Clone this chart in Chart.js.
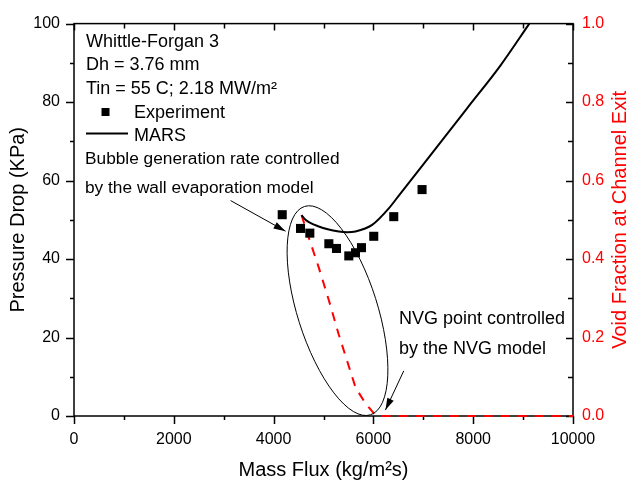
<!DOCTYPE html>
<html><head><meta charset="utf-8">
<script src="https://cdn.jsdelivr.net/npm/chart.js@4.4.1/dist/chart.umd.min.js"></script>
<style>html,body{margin:0;padding:0;background:#fff;}</style>
</head><body>
<canvas id="c" width="628" height="483"></canvas>
<script>
// ---- data ----
const expFlux = [4173, 4540, 4726, 5107, 5260, 5507, 5641, 5761, 6007, 6408, 6975];
const expDP   = [51.3, 47.8, 46.6, 43.9, 42.7, 40.8, 41.6, 42.9, 45.8, 50.8, 57.7];
const marsFlux = [4560, 4640, 4906, 5307, 5474, 5641, 5975, 6308, 6541, 7208, 7877, 8545, 9125];
const marsDP   = [51.2, 50.0, 48.3, 47.0, 46.8, 47.0, 48.7, 52.9, 56.7, 67.5, 78.4, 89.3, 100];
const voidFlux = [4560, 4706, 4906, 5107, 5307, 5474, 5641, 5841, 6007, 6108, 10000];
const voidFrac = [0.512, 0.454, 0.378, 0.295, 0.207, 0.140, 0.073, 0.032, 0.007, 0.0, 0.0];
const xTickMarks  = [0,1000,2000,3000,4000,5000,6000,7000,8000,9000,10000];
const yTickMarks  = [0,10,20,30,40,50,60,70,80,90,100];
const y2TickMarks = [0,0.1,0.2,0.3,0.4,0.5,0.6,0.7,0.8,0.9,1.0];
const xLabelVals  = [0,2000,4000,6000,8000,10000];
const yLabelVals  = [0,20,40,60,80,100];
const y2LabelVals = [0,0.2,0.4,0.6,0.8,1.0];
const infoLines = ['Whittle-Forgan 3', 'Dh = 3.76 mm', 'Tin = 55 C; 2.18 MW/m\u00B2'];
const legendLabels = ['Experiment', 'MARS'];
const note1 = ['Bubble generation rate controlled', 'by the wall evaporation model'];
const note2 = ['NVG point controlled', 'by the NVG model'];
const xTitle = 'Mass Flux (kg/m\u00B2s)';
const yTitle = 'Pressure Drop (KPa)';
const y2Title = 'Void Fraction at Channel Exit';

const FF = "'Liberation Sans', Arial, Helvetica, sans-serif";
const RED = '#ff0000';

function pts(xs, ys){ return xs.map((v,i)=>({x:v, y:ys[i]})); }

function arrow(ctx, x0, y0, x1, y1){
  ctx.beginPath(); ctx.moveTo(x0,y0); ctx.lineTo(x1,y1); ctx.stroke();
  const ang = Math.atan2(y1-y0, x1-x0), L = 12, W = 3.5;
  const bx = x1 - L*Math.cos(ang), by = y1 - L*Math.sin(ang);
  ctx.beginPath();
  ctx.moveTo(x1,y1);
  ctx.lineTo(bx + W*Math.sin(ang), by - W*Math.cos(ang));
  ctx.lineTo(bx - W*Math.sin(ang), by + W*Math.cos(ang));
  ctx.closePath(); ctx.fill();
}

const decor = {
  id: 'decor',
  beforeDatasetsDraw(chart){
    const {ctx, chartArea:a, scales:{x, y, y2}} = chart;
    ctx.save();
    ctx.strokeStyle = '#000'; ctx.lineWidth = 1.5;
    ctx.strokeRect(a.left, a.top, a.right-a.left, a.bottom-a.top);
    ctx.beginPath();
    xTickMarks.forEach(v=>{
      const px = Math.round(x.getPixelForValue(v))+0.5;
      const major = v % 2000 === 0;
      ctx.moveTo(px, a.bottom); ctx.lineTo(px, a.bottom + (major?8:4));
      ctx.moveTo(px, a.top); ctx.lineTo(px, a.top + (major?7:5));
    });
    yTickMarks.forEach(v=>{
      const py = Math.round(y.getPixelForValue(v))+0.5;
      const major = v % 20 === 0;
      ctx.moveTo(a.left, py); ctx.lineTo(a.left - (major?8:4), py);
    });
    y2TickMarks.forEach((v,i)=>{
      const py = Math.round(y2.getPixelForValue(v))+0.5;
      const major = i % 2 === 0;
      ctx.moveTo(a.right, py); ctx.lineTo(a.right - (major?7:5), py);
    });
    ctx.stroke();
    ctx.restore();
  },
  afterDatasetsDraw(chart){
    const {ctx, chartArea:a, scales:{x, y, y2}} = chart;
    ctx.save();
    ctx.fillStyle = '#000'; ctx.strokeStyle = '#000';
    ctx.textBaseline = 'alphabetic'; ctx.textAlign = 'left';
    // info text
    ctx.font = '18px ' + FF;
    const infoY = [46.7, 69.5, 94];
    infoLines.forEach((t,i)=>ctx.fillText(t, 86, infoY[i]));
    // legend
    ctx.fillRect(105.5-4, 112-4, 8, 8);
    ctx.lineWidth = 2;
    ctx.beginPath(); ctx.moveTo(86, 133.5); ctx.lineTo(128, 133.5); ctx.stroke();
    ctx.fillText(legendLabels[0], 134, 117.5);
    ctx.fillText(legendLabels[1], 134, 140.5);
    // notes
    ctx.font = '17.3px ' + FF;
    ctx.fillText(note1[0], 85, 163.5);
    ctx.fillText(note1[1], 85, 193);
    ctx.font = '18px ' + FF;
    ctx.fillText(note2[0], 399, 323.5);
    ctx.fillText(note2[1], 399, 354);
    // ellipse
    ctx.lineWidth = 1;
    const ex1 = x.getPixelForValue(4620), ey1 = y.getPixelForValue(53.4);
    const ex2 = x.getPixelForValue(5941), ey2 = y.getPixelForValue(0.3);
    const cx = (ex1+ex2)/2, cy = (ey1+ey2)/2;
    const ra = Math.hypot(ex2-ex1, ey2-ey1)/2, rot = Math.atan2(ey2-ey1, ex2-ex1);
    ctx.beginPath(); ctx.ellipse(cx, cy, ra, 40, rot, 0, Math.PI*2); ctx.stroke();
    // arrows
    arrow(ctx, x.getPixelForValue(3138), y.getPixelForValue(54.9), x.getPixelForValue(4239), y.getPixelForValue(47.1));
    arrow(ctx, x.getPixelForValue(6608), y.getPixelForValue(11.5), x.getPixelForValue(6241), y.getPixelForValue(1.5));
    // right axis title
    ctx.fillStyle = RED;
    ctx.font = '20px ' + FF;
    ctx.textAlign = 'center';
    ctx.translate(626, (a.top + a.bottom)/2);
    ctx.rotate(-Math.PI/2);
    ctx.fillText(y2Title, 0, 0);
    ctx.restore();
  }
};

new Chart(document.getElementById('c'), {
  type: 'scatter',
  data: {
    datasets: [
      { label: legendLabels[0], data: pts(expFlux, expDP), yAxisID: 'y',
        pointStyle: 'rect', pointRadius: 6.4, pointHoverRadius: 6.4,
        backgroundColor: '#000', borderColor: '#000', borderWidth: 0, showLine: false, clip: false },
      { label: legendLabels[1], data: pts(marsFlux, marsDP), yAxisID: 'y',
        showLine: true, pointRadius: 0, borderColor: '#000', borderWidth: 2,
        tension: 0.4, cubicInterpolationMode: 'monotone', clip: false },
      { label: 'Void', data: pts(voidFlux, voidFrac), yAxisID: 'y2',
        showLine: true, pointRadius: 0, borderColor: RED, borderWidth: 2,
        borderDash: [9, 8], tension: 0, clip: false }
    ]
  },
  options: {
    responsive: false, animation: false, devicePixelRatio: 1,
    layout: { padding: { top: 17, left: 0, right: 0, bottom: 0 } },
    plugins: { legend: { display: false }, tooltip: { enabled: false } },
    scales: {
      x: { type: 'linear', position: 'bottom', min: 0, max: 10000,
        afterFit: s => { s.height = 67; },
        afterBuildTicks: s => { s.ticks = xLabelVals.map(v=>({value:v})); },
        ticks: { font: { size: 16, family: FF }, color: '#000', padding: 13.5, maxRotation: 0, autoSkip: false,
                 callback: v => String(v) },
        grid: { display: false, drawTicks: false }, border: { display: false },
        title: { display: true, text: xTitle, color: '#000', font: { size: 20, family: FF }, padding: { top: 0, bottom: 1 } } },
      y: { type: 'linear', position: 'left', min: 0, max: 100,
        afterFit: s => { s.width = 74; },
        afterBuildTicks: s => { s.ticks = yLabelVals.map(v=>({value:v})); },
        ticks: { font: { size: 16, family: FF }, color: '#000', padding: 14, callback: v => String(v) },
        grid: { display: false, drawTicks: false }, border: { display: false },
        title: { display: true, text: yTitle, color: '#000', font: { size: 20, family: FF }, padding: { top: 6, bottom: 0 } } },
      y2: { type: 'linear', position: 'right', min: 0, max: 1,
        afterFit: s => { s.width = 55; },
        afterBuildTicks: s => { s.ticks = y2LabelVals.map(v=>({value:v})); },
        ticks: { font: { size: 16, family: FF }, color: RED, padding: 9, callback: v => Number(v).toFixed(1) },
        grid: { display: false, drawTicks: false }, border: { display: false },
        title: { display: false } }
    }
  },
  plugins: [decor]
});
</script>
</body></html>
